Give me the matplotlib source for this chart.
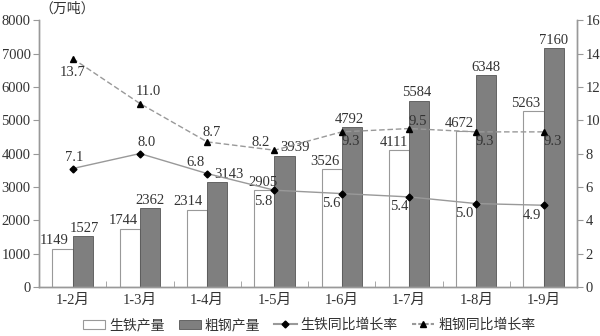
import matplotlib
matplotlib.use("Agg")
import matplotlib.pyplot as plt
from matplotlib.lines import Line2D
from matplotlib.patches import Patch
import numpy as np

plt.rcParams['font.family'] = ['Liberation Serif', 'Noto Sans CJK SC']

categories = ['1-2月', '1-3月', '1-4月', '1-5月', '1-6月', '1-7月', '1-8月', '1-9月']
iron_output = [1149, 1744, 2314, 2905, 3526, 4111, 4672, 5263]
steel_output = [1527, 2362, 3143, 3939, 4792, 5584, 6348, 7160]
iron_growth = [7.1, 8.0, 6.8, 5.8, 5.6, 5.4, 5.0, 4.9]
steel_growth = [13.7, 11.0, 8.7, 8.2, 9.3, 9.5, 9.3, 9.3]

fig = plt.figure(figsize=(6, 3.36), dpi=100)
ax = fig.add_axes([0.065, 0.146, 0.897, 0.794])
ax2 = ax.twinx()

x = np.arange(len(categories))
w = 0.3
spine_c = '#999999'
txt_c = '#333333'
fs = 10.5

ax.bar(x - w / 2, iron_output, w, color='white', edgecolor='#999999', linewidth=0.8, zorder=2)
ax.bar(x + w / 2, steel_output, w, color='#7f7f7f', edgecolor='#555555', linewidth=0.6, zorder=2)

iron_dx = [-0.12, -0.1, -0.13, -0.02, -0.1, -0.08, -0.1, -0.12]
steel_dx = [0.02, 0.0, 0.17, 0.15, -0.04, -0.04, 0.0, 0.0]
for i in range(len(x)):
    ax.text(x[i] - w / 2 + iron_dx[i], iron_output[i] + 40, str(iron_output[i]), ha='center',
            va='bottom', fontsize=fs, color=txt_c, zorder=5)
    ax.text(x[i] + w / 2 + steel_dx[i], steel_output[i] + 40, str(steel_output[i]), ha='center',
            va='bottom', fontsize=fs, color=txt_c, zorder=5)

ax.set_xlim(-0.5, len(x) - 0.5)
ax.set_ylim(0, 8000)
ax.set_yticks(range(0, 8001, 1000))
ax2.set_ylim(0, 16)
ax2.set_yticks(range(0, 17, 2))

ax2.plot(x, iron_growth, color='#999999', linewidth=1.0, marker='D', markersize=3.5,
         markerfacecolor='black', markeredgecolor='black', zorder=4)
ax2.plot(x, steel_growth, color='#999999', linewidth=1.0, linestyle=(0, (4, 2)), marker='^',
         markersize=4.5, markerfacecolor='black', markeredgecolor='black', zorder=4)

# iron growth labels (dx in categories, dy in right-axis units)
iron_off = [(0.03, 0.3, 'bottom'), (0.1, 0.3, 'bottom'), (-0.17, 0.25, 'bottom'),
            (-0.16, -0.3, 'top'), (-0.16, -0.2, 'top'), (-0.15, -0.2, 'top'),
            (-0.18, -0.2, 'top'), (-0.18, -0.2, 'top')]
for i, (dx, dy, va) in enumerate(iron_off):
    ax2.text(x[i] + dx, iron_growth[i] + dy, f'{iron_growth[i]:.1f}', ha='center', va=va,
             fontsize=fs, color=txt_c, zorder=5)

steel_off = [(0.0, -0.45, 'top'), (0.12, 0.35, 'bottom'), (0.07, 0.2, 'bottom'),
             (-0.2, 0.05, 'bottom'), (0.13, -0.2, 'top'), (0.13, 0.05, 'bottom'),
             (0.13, -0.2, 'top'), (0.13, -0.2, 'top')]
for i, (dx, dy, va) in enumerate(steel_off):
    ax2.text(x[i] + dx, steel_growth[i] + dy, f'{steel_growth[i]:.1f}', ha='center', va=va,
             fontsize=fs, color=txt_c, zorder=5)

ax.set_xticks(x)
ax.set_xticklabels(categories, fontsize=fs, color=txt_c)
ax.set_xticks(np.arange(-0.5, len(x), 1.0), minor=True)
ax.tick_params(axis='x', which='major', length=0, pad=5)
ax.tick_params(axis='x', which='minor', length=4, direction='in', color=spine_c)
ax.tick_params(axis='y', labelsize=fs, colors=txt_c, color=spine_c, length=4, pad=2)
ax2.tick_params(axis='y', labelsize=fs, colors=txt_c, color=spine_c, length=4, pad=2)

for a in (ax, ax2):
    a.spines['top'].set_visible(False)
    for s in ('left', 'right', 'bottom'):
        a.spines[s].set_color(spine_c)
        a.spines[s].set_linewidth(1.0)
ax2.set_zorder(ax.get_zorder() + 1)
ax2.patch.set_visible(False)

fig.text(0.065, 0.975, '（万吨）', ha='left', va='center', fontsize=10, color=txt_c,
         family=['Noto Sans CJK SC'])

handles = [
    Patch(facecolor='white', edgecolor='#999999', linewidth=0.8),
    Patch(facecolor='#7f7f7f', edgecolor='#555555', linewidth=0.6),
    Line2D([0], [0], color='#999999', marker='D', markersize=3.5, markerfacecolor='black',
           markeredgecolor='black'),
    Line2D([0], [0], color='#999999', linestyle=(0, (2, 1)), marker='^', markersize=4.5,
           markerfacecolor='black', markeredgecolor='black'),
]
labels = ['生铁产量', '粗钢产量', '生铁同比增长率', '粗钢同比增长率']
fig.legend(handles, labels, loc='center', bbox_to_anchor=(0.515, 0.032), ncol=4, frameon=False,
           handlelength=1.6, handletextpad=0.3, columnspacing=1.0,
           prop={'family': ['Noto Sans CJK SC'], 'size': 10}, labelcolor=txt_c)

fig.savefig('out.png', dpi=100)
